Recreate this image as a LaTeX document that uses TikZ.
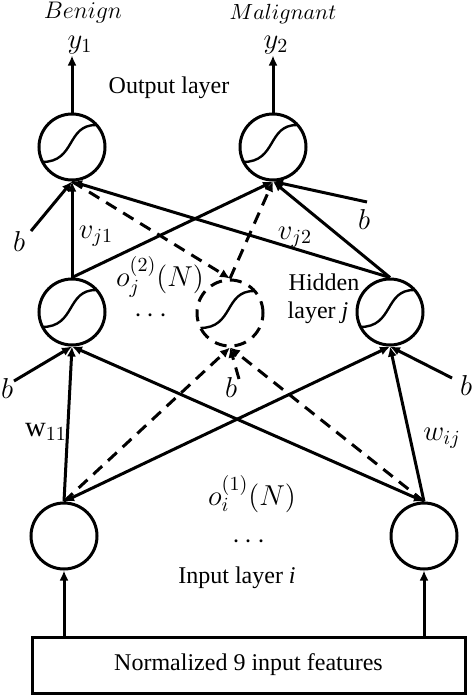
\documentclass[tikz,border=0pt,12pt]{standalone}
\usepackage{fontspec}
\setmainfont{Liberation Serif}
\usepackage{tikz}
\usetikzlibrary{arrows.meta, calc}

\begin{document}
\begin{tikzpicture}[x=0.5pt, y=-0.5pt, line width=1.5pt,
		neuron/.style={draw, circle, minimum size=33pt, inner sep=0pt},
		sig/.style={neuron, path picture={\draw[solid, line width=1.2pt, shift={(path picture bounding box.center)}] (-15pt,-7.5pt) .. controls (2pt,-7.5pt) and (-3pt,11pt) .. (12pt,11pt);}},
		dsig/.style={sig, dash pattern=on 6pt off 4pt},
		arrowto/.style={-{Latex[length=5pt, width=4.5pt]}},
		arrowboth/.style={{Latex[length=5pt, width=4.5pt]}-{Latex[length=5pt, width=4.5pt]}},
		dashline/.style={dash pattern=on 6pt off 4pt},
		lbl/.style={inner sep=0pt, font=\large}]
	\useasboundingbox (0,0) rectangle (474,696);
	% neurons
	\node[sig] (o1) at (72,147) {};
	\node[sig] (o2) at (273,147) {};
	\node[sig] (h1) at (72,312) {};
	\node[dsig] (hm) at (230,313) {};
	\node[sig] (h2) at (390,312) {};
	\node[neuron] (i1) at (64,536) {};
	\node[neuron] (i2) at (424,536) {};
	\node[draw, minimum width=216.5pt, minimum height=28pt, inner sep=0pt] (feat) at (248.5,665) {Normalized 9 input features};
	% outputs
	\node[lbl] (y1) at (80,45) {$y_1$};
	\node[lbl] (y2) at (276,45) {$y_2$};
	\node[lbl, font=\normalsize] (ben) at (83,13) {$Benign$};
	\node[lbl, font=\small] (mal) at (283,14) {$Malignant$};
	\draw[arrowto] (o1.north) -- (o1.north |- y1.south);
	\draw[arrowto] (o2.north) -- (o2.north |- y2.south);
	% bias points
	\coordinate (bo1) at (31,231);
	\coordinate (bo2) at (367,202);
	\coordinate (bh1) at (14,381);
	\coordinate (bhm) at (239,379);
	\coordinate (bh2) at (452,378);
	% input -> hidden
	\draw[arrowto] (i1.north) -- (h1.south);
	\draw[arrowboth] (i1.north) -- (h2.south);
	\draw[arrowto, dashline] (i1.north) -- (hm.south);
	\draw[arrowboth] (i2.north) -- (h1.south);
	\draw[arrowto] (i2.north) -- (h2.south);
	\draw[arrowto, dashline] (i2.north) -- (hm.south);
	\draw[arrowto] (bh1) -- (h1.south);
	\draw[arrowto, dashline] (bhm) -- (hm.south);
	\draw[arrowto] (bh2) -- (h2.south);
	% hidden -> output
	\draw[arrowto] (h1.north) -- (o1.south);
	\draw[arrowto] (h1.north) -- (o2.south);
	\draw[arrowto] (h2.north) -- (o1.south);
	\draw[arrowto] (h2.north) -- (o2.south);
	\draw[arrowto, dashline] (o1.south) -- (hm.north);
	\draw[arrowto, dashline] (hm.north) -- (o2.south);
	\draw[arrowto] (bo1) -- (o1.south);
	\draw[arrowto] (bo2) -- (o2.south);
	% features -> input
	\draw[arrowto] (feat.north -| i1) -- (i1.south);
	\draw[arrowto] (feat.north -| i2) -- (i2.south);
	% labels
	\node[lbl, font=\normalsize] (outl) at (169,88) {Output layer};
	\node[lbl] (v1) at (96,236) {$v_{j1}$};
	\node[lbl] (v2) at (295,237) {$v_{j2}$};
	\node[lbl] (b1) at (19,241) {$b$};
	\node[lbl] (b2) at (364,219) {$b$};
	\node[lbl] (oj) at (160,277) {$o_j^{(2)}(N)$};
	\node[lbl] (hdots) at (151,316) {$\cdots$};
	\node[lbl, font=\normalsize] (hid) at (324,282) {Hidden};
	\node[lbl, font=\normalsize] (hidj) at (318,313) {layer \textit{j}};
	\node[lbl] (b3) at (7,388) {$b$};
	\node[lbl] (b4) at (231,387) {$b$};
	\node[lbl] (b5) at (466,385) {$b$};
	\node[lbl] (w11) at (46,432) {$\mathrm{w}_{11}$};
	\node[lbl] (wij) at (442,438) {$w_{ij}$};
	\node[lbl] (oi) at (252,494) {$o_i^{(1)}(N)$};
	\node[lbl] (idots) at (249,542) {$\cdots$};
	\node[lbl, font=\normalsize] (inl) at (237,578) {Input layer \textit{i}};
\end{tikzpicture}
\end{document}
